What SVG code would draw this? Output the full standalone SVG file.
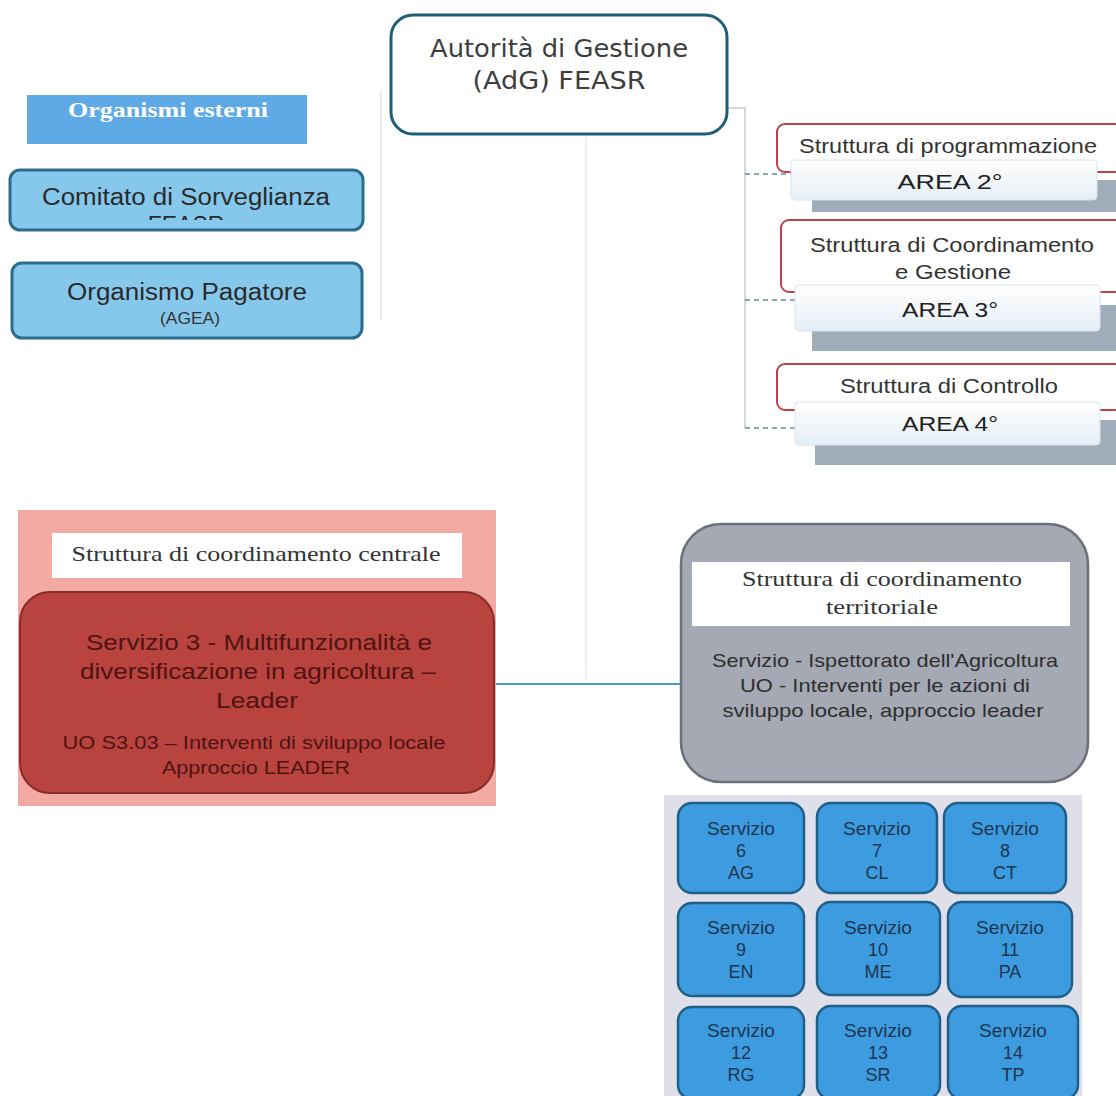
<svg xmlns="http://www.w3.org/2000/svg" width="1116" height="1096" viewBox="0 0 1116 1096">
<style>
.sans{font-family:"Liberation Sans",Arial,sans-serif}
.serif{font-family:"Liberation Serif","Times New Roman",serif}
.ext{fill:#86c8ec;stroke:#2b6d8c;stroke-width:3}
.red{fill:#fff;stroke:#c2404c;stroke-width:2}
.shadow{fill:#9fadbb}
.area{fill:url(#areaGrad);stroke:#d8e4ee;stroke-width:1}
.cell{fill:#3d9be0;stroke:#205f88;stroke-width:2.5}
.ct{font-size:18px;fill:#1d3650;text-anchor:middle}
.dash{stroke:#6a8aa0;stroke-width:1.5;stroke-dasharray:5 4;fill:none}
</style>
<defs>
<linearGradient id="areaGrad" x1="0" y1="0" x2="0" y2="1">
<stop offset="0" stop-color="#ffffff"/>
<stop offset="1" stop-color="#e4eef6"/>
</linearGradient>
<clipPath id="clipCom"><rect x="10" y="170" width="353" height="50"/></clipPath>
</defs>
<rect width="1116" height="1096" fill="#ffffff"/>

<g id="connectors">
<line x1="381" y1="90" x2="381" y2="320" stroke="#e6e6e6" stroke-width="1.5"/>
<line x1="586" y1="134" x2="586" y2="680" stroke="#e8e8e8" stroke-width="1.5"/>
<polyline points="727,108 745,108 745,428" fill="none" stroke="#c8cdd2" stroke-width="1.5"/>
<line class="dash" x1="745" y1="174" x2="792" y2="174"/>
<line class="dash" x1="745" y1="300" x2="796" y2="300"/>
<line class="dash" x1="745" y1="428" x2="796" y2="428"/>
<line x1="494" y1="684" x2="681" y2="684" stroke="#4a9ec6" stroke-width="2"/>
</g>

<g id="organismi-esterni">
<rect x="27" y="95" width="280" height="49" fill="#5eaae6"/>
<text x="168" y="117" class="serif" font-size="21" font-weight="bold" fill="#ffffff" text-anchor="middle" textLength="200" lengthAdjust="spacingAndGlyphs">Organismi esterni</text>
</g>

<g id="comitato">
<rect class="ext" x="10" y="170" width="353" height="60" rx="10"/>
<text x="186" y="205" class="sans" font-size="23" fill="#2a2a2a" text-anchor="middle" textLength="288" lengthAdjust="spacingAndGlyphs">Comitato di Sorveglianza</text>
<text x="186" y="233" class="sans" font-size="23" fill="#2a2a2a" text-anchor="middle" clip-path="url(#clipCom)">FEASR</text>
</g>

<g id="organismo-pagatore">
<rect class="ext" x="12" y="263" width="350" height="75" rx="10"/>
<text x="187" y="300" class="sans" font-size="23" fill="#2a2a2a" text-anchor="middle" textLength="240" lengthAdjust="spacingAndGlyphs">Organismo Pagatore</text>
<text x="190" y="324" class="sans" font-size="17" fill="#333" text-anchor="middle" textLength="60" lengthAdjust="spacingAndGlyphs">(AGEA)</text>
</g>

<g id="adg">
<rect x="391" y="15" width="336" height="119" rx="22" fill="#ffffff" stroke="#1f5e7a" stroke-width="3"/>
<text x="559" y="57" font-size="25" fill="#3d3d3d" text-anchor="middle" style="font-family:'DejaVu Sans',sans-serif" textLength="258" lengthAdjust="spacingAndGlyphs">Autorità di Gestione</text>
<text x="559" y="89" font-size="25" fill="#3d3d3d" text-anchor="middle" style="font-family:'DejaVu Sans',sans-serif" textLength="173" lengthAdjust="spacingAndGlyphs">(AdG) FEASR</text>
</g>

<g id="area2">
<rect class="red" x="777" y="124" width="345" height="48" rx="8"/>
<text x="948" y="153" class="sans" font-size="20" fill="#333" text-anchor="middle" textLength="298" lengthAdjust="spacingAndGlyphs">Struttura di programmazione</text>
<rect class="shadow" x="812" y="180" width="304" height="32"/>
<rect class="area" x="791" y="160" width="306" height="40" rx="4"/>
<text x="950" y="189" class="sans" font-size="20" fill="#222" text-anchor="middle" textLength="105" lengthAdjust="spacingAndGlyphs">AREA 2°</text>
</g>

<g id="area3">
<rect class="red" x="781" y="220" width="341" height="72" rx="8"/>
<text x="952" y="252" class="sans" font-size="20" fill="#333" text-anchor="middle" textLength="284" lengthAdjust="spacingAndGlyphs">Struttura di Coordinamento</text>
<text x="953" y="279" class="sans" font-size="20" fill="#333" text-anchor="middle" textLength="116" lengthAdjust="spacingAndGlyphs">e Gestione</text>
<rect class="shadow" x="812" y="305" width="304" height="46"/>
<rect class="area" x="795" y="285" width="305" height="46" rx="4"/>
<text x="950" y="317" class="sans" font-size="20" fill="#222" text-anchor="middle" textLength="96" lengthAdjust="spacingAndGlyphs">AREA 3°</text>
</g>

<g id="area4">
<rect class="red" x="777" y="364" width="345" height="46" rx="8"/>
<text x="949" y="393" class="sans" font-size="20" fill="#333" text-anchor="middle" textLength="218" lengthAdjust="spacingAndGlyphs">Struttura di Controllo</text>
<rect class="shadow" x="815" y="420" width="301" height="45"/>
<rect class="area" x="795" y="402" width="305" height="43" rx="4"/>
<text x="950" y="431" class="sans" font-size="20" fill="#222" text-anchor="middle" textLength="96" lengthAdjust="spacingAndGlyphs">AREA 4°</text>
</g>

<g id="coordinamento-centrale">
<rect x="18" y="510" width="478" height="296" fill="#f2aaa3"/>
<rect x="52" y="533" width="410" height="45" fill="#ffffff"/>
<text x="256" y="561" class="serif" font-size="22" fill="#333" text-anchor="middle" textLength="369" lengthAdjust="spacingAndGlyphs">Struttura di coordinamento centrale</text>
<rect x="20" y="592" width="474" height="201" rx="30" fill="#b9433f" stroke="#8a2c2a" stroke-width="2"/>
<text x="259" y="650" class="sans" font-size="22" fill="#4e1412" text-anchor="middle" textLength="346" lengthAdjust="spacingAndGlyphs">Servizio 3 - Multifunzionalità e</text>
<text x="258" y="679" class="sans" font-size="22" fill="#4e1412" text-anchor="middle" textLength="356" lengthAdjust="spacingAndGlyphs">diversificazione in agricoltura –</text>
<text x="257" y="708" class="sans" font-size="22" fill="#4e1412" text-anchor="middle" textLength="82" lengthAdjust="spacingAndGlyphs">Leader</text>
<text x="254" y="749" class="sans" font-size="18" fill="#4e1412" text-anchor="middle" textLength="383" lengthAdjust="spacingAndGlyphs">UO S3.03 – Interventi di sviluppo locale</text>
<text x="256" y="774" class="sans" font-size="18" fill="#4e1412" text-anchor="middle" textLength="188" lengthAdjust="spacingAndGlyphs">Approccio LEADER</text>
</g>

<g id="coordinamento-territoriale">
<rect x="681" y="524" width="407" height="258" rx="40" fill="#a4a9b3" stroke="#6b7079" stroke-width="2.5"/>
<rect x="692" y="562" width="378" height="64" fill="#ffffff"/>
<text x="882" y="586" class="serif" font-size="22" fill="#333" text-anchor="middle" textLength="280" lengthAdjust="spacingAndGlyphs">Struttura di coordinamento</text>
<text x="882" y="614" class="serif" font-size="22" fill="#333" text-anchor="middle" textLength="112" lengthAdjust="spacingAndGlyphs">territoriale</text>
<text x="885" y="667" class="sans" font-size="19" fill="#2e2e2e" text-anchor="middle" textLength="346" lengthAdjust="spacingAndGlyphs">Servizio - Ispettorato dell'Agricoltura</text>
<text x="885" y="692" class="sans" font-size="19" fill="#2e2e2e" text-anchor="middle" textLength="290" lengthAdjust="spacingAndGlyphs">UO - Interventi per le azioni di</text>
<text x="883" y="717" class="sans" font-size="19" fill="#2e2e2e" text-anchor="middle" textLength="321" lengthAdjust="spacingAndGlyphs">sviluppo locale, approccio leader</text>
</g>

<g id="servizi-grid">
<rect x="664" y="795" width="418" height="301" fill="#dedfe8"/>
</g>
<g id="servizio-6"><rect class="cell" x="678" y="803" width="126" height="90" rx="14"/>
<text class="sans ct" x="741" y="835" textLength="68" lengthAdjust="spacingAndGlyphs">Servizio</text><text class="sans ct" x="741" y="857">6</text><text class="sans ct" x="741" y="879">AG</text></g>
<g id="servizio-7"><rect class="cell" x="817" y="803" width="120" height="90" rx="14"/>
<text class="sans ct" x="877" y="835" textLength="68" lengthAdjust="spacingAndGlyphs">Servizio</text><text class="sans ct" x="877" y="857">7</text><text class="sans ct" x="877" y="879">CL</text></g>
<g id="servizio-8"><rect class="cell" x="944" y="803" width="122" height="90" rx="14"/>
<text class="sans ct" x="1005" y="835" textLength="68" lengthAdjust="spacingAndGlyphs">Servizio</text><text class="sans ct" x="1005" y="857">8</text><text class="sans ct" x="1005" y="879">CT</text></g>
<g id="servizio-9"><rect class="cell" x="678" y="903" width="126" height="93" rx="14"/>
<text class="sans ct" x="741" y="934" textLength="68" lengthAdjust="spacingAndGlyphs">Servizio</text><text class="sans ct" x="741" y="956">9</text><text class="sans ct" x="741" y="978">EN</text></g>
<g id="servizio-10"><rect class="cell" x="817" y="902" width="123" height="93" rx="14"/>
<text class="sans ct" x="878" y="934" textLength="68" lengthAdjust="spacingAndGlyphs">Servizio</text><text class="sans ct" x="878" y="956">10</text><text class="sans ct" x="878" y="978">ME</text></g>
<g id="servizio-11"><rect class="cell" x="948" y="902" width="124" height="95" rx="14"/>
<text class="sans ct" x="1010" y="934" textLength="68" lengthAdjust="spacingAndGlyphs">Servizio</text><text class="sans ct" x="1010" y="956">11</text><text class="sans ct" x="1010" y="978">PA</text></g>
<g id="servizio-12"><rect class="cell" x="678" y="1007" width="126" height="92" rx="14"/>
<text class="sans ct" x="741" y="1037" textLength="68" lengthAdjust="spacingAndGlyphs">Servizio</text><text class="sans ct" x="741" y="1059">12</text><text class="sans ct" x="741" y="1081">RG</text></g>
<g id="servizio-13"><rect class="cell" x="817" y="1006" width="123" height="93" rx="14"/>
<text class="sans ct" x="878" y="1037" textLength="68" lengthAdjust="spacingAndGlyphs">Servizio</text><text class="sans ct" x="878" y="1059">13</text><text class="sans ct" x="878" y="1081">SR</text></g>
<g id="servizio-14"><rect class="cell" x="948" y="1006" width="130" height="93" rx="14"/>
<text class="sans ct" x="1013" y="1037" textLength="68" lengthAdjust="spacingAndGlyphs">Servizio</text><text class="sans ct" x="1013" y="1059">14</text><text class="sans ct" x="1013" y="1081">TP</text></g>
</svg>
